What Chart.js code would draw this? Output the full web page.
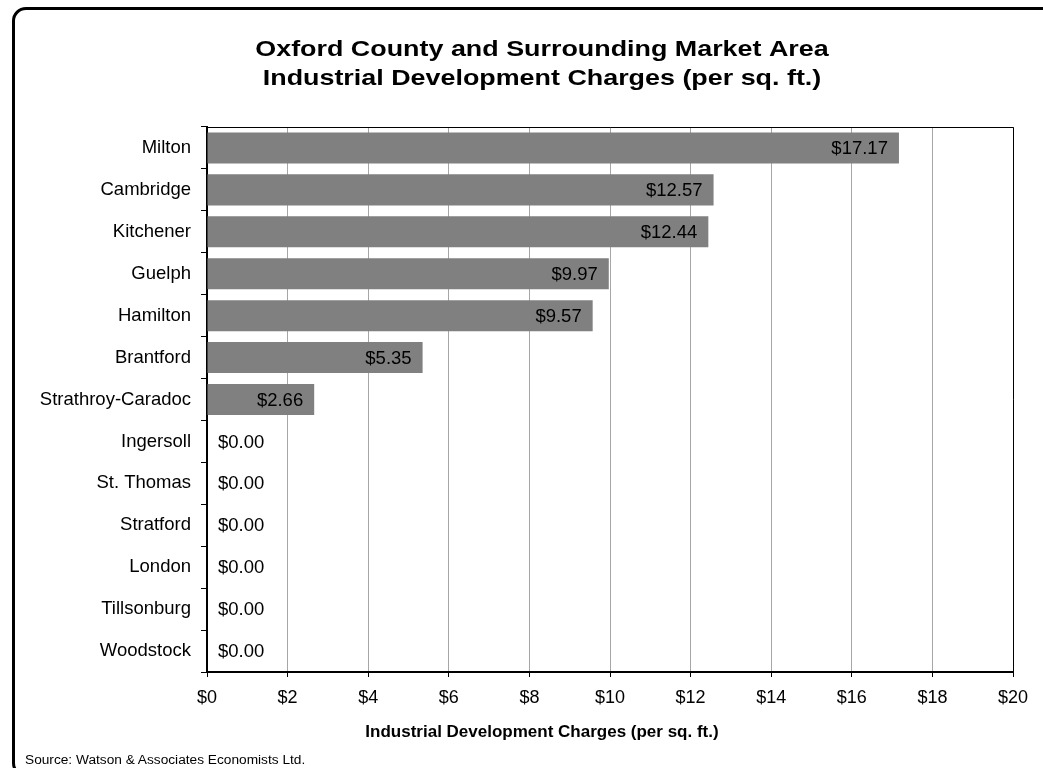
<!DOCTYPE html>
<html>
<head>
<meta charset="utf-8">
<title>Industrial Development Charges</title>
<script src="https://cdn.jsdelivr.net/npm/chart.js@4/dist/chart.umd.min.js"></script>
<style>
  html, body { margin: 0; padding: 0; background: #fff; }
  #wrap { position: relative; width: 1043px; height: 768px; overflow: hidden; }
  #frame {
    position: absolute; left: 12px; top: 7px; width: 1100px; height: 770px;
    border: 3px solid #000; border-radius: 14px; box-sizing: border-box;
  }
  #source {
    position: absolute; left: 25px; top: 752px;
    font: 13.7px "Liberation Sans", Arial, sans-serif; color: #000;
  }
  #chart { position: absolute; left: 0; top: 0; }
</style>
</head>
<body>
<div id="wrap">
  <div id="frame"></div>
  <canvas id="chart" width="1043" height="768"></canvas>
  <div id="source">Source: Watson &amp; Associates Economists Ltd.</div>
</div>
<script>
const municipalities = [
  "Milton", "Cambridge", "Kitchener", "Guelph", "Hamilton", "Brantford",
  "Strathroy-Caradoc", "Ingersoll", "St. Thomas", "Stratford", "London",
  "Tillsonburg", "Woodstock"
];
const chargesPerSqFt = [17.17, 12.57, 12.44, 9.97, 9.57, 5.35, 2.66, 0, 0, 0, 0, 0, 0];
const chartTitle = [
  "Oxford County and Surrounding Market Area",
  "Industrial Development Charges (per sq. ft.)"
];
const axisTitle = "Industrial Development Charges (per sq. ft.)";

const FONT = "'Liberation Sans', Arial, sans-serif";
const TITLE_CENTER = 542;

// headings (title is set a little wide), plot frame and value labels
const barExtras = {
  id: "barExtras",
  afterDraw(chart) {
    const ctx = chart.ctx;
    const area = chart.chartArea;
    const xScale = chart.scales.x;

    ctx.save();
    ctx.strokeStyle = "#000";
    ctx.lineWidth = 1;
    ctx.beginPath();
    ctx.moveTo(area.left, area.top + 0.5);
    ctx.lineTo(area.right + 0.5, area.top + 0.5);
    ctx.lineTo(area.right + 0.5, area.bottom);
    ctx.stroke();

    ctx.fillStyle = "#000";
    ctx.textBaseline = "middle";
    ctx.font = "18.5px " + FONT;
    const meta = chart.getDatasetMeta(0);
    meta.data.forEach(function (bar, i) {
      const value = chargesPerSqFt[i];
      const text = "$" + value.toFixed(2);
      if (value > 0) {
        ctx.textAlign = "right";
        ctx.fillText(text, bar.x - 11, bar.y + 1);
      } else {
        ctx.textAlign = "left";
        ctx.fillText(text, xScale.getPixelForValue(0) + 11, bar.y + 1);
      }
    });

    ctx.textAlign = "center";
    ctx.textBaseline = "alphabetic";
    ctx.font = "bold 17px " + FONT;
    ctx.fillText(axisTitle, TITLE_CENTER, 737);

    ctx.translate(TITLE_CENTER, 0);
    ctx.scale(1.25, 1);
    ctx.font = "bold 21.5px " + FONT;
    chartTitle.forEach(function (line, i) {
      ctx.fillText(line, 0, 55.5 + i * 29);
    });
    ctx.restore();
  }
};

new Chart(document.getElementById("chart"), {
  type: "bar",
  data: {
    labels: municipalities,
    datasets: [
      {
        data: chargesPerSqFt,
        backgroundColor: "#808080",
        borderWidth: 0,
        barPercentage: 0.74,
        categoryPercentage: 1
      }
    ]
  },
  options: {
    indexAxis: "y",
    responsive: false,
    animation: false,
    layout: {
      padding: { left: 10, right: 30, top: 127, bottom: 0 }
    },
    plugins: {
      legend: { display: false },
      tooltip: { enabled: false }
    },
    scales: {
      x: {
        min: 0,
        max: 20,
        afterFit: function (scale) { scale.height = 96; },
        ticks: {
          stepSize: 2,
          color: "#000",
          padding: 10,
          font: { family: FONT, size: 18 },
          maxRotation: 0,
          callback: function (v) { return "$" + v; }
        },
        grid: {
          color: "#a6a6a6",
          lineWidth: 1,
          tickColor: "#000",
          tickLength: 5
        },
        border: { color: "#000", width: 2 }
      },
      y: {
        afterFit: function (scale) { scale.width = 197; },
        ticks: {
          color: "#000",
          padding: 10,
          font: { family: FONT, size: 18.5 }
        },
        grid: {
          offset: true,
          drawOnChartArea: false,
          tickColor: "#000",
          tickLength: 6
        },
        border: { color: "#000", width: 2 }
      }
    }
  },
  plugins: [barExtras]
});
</script>
</body>
</html>
